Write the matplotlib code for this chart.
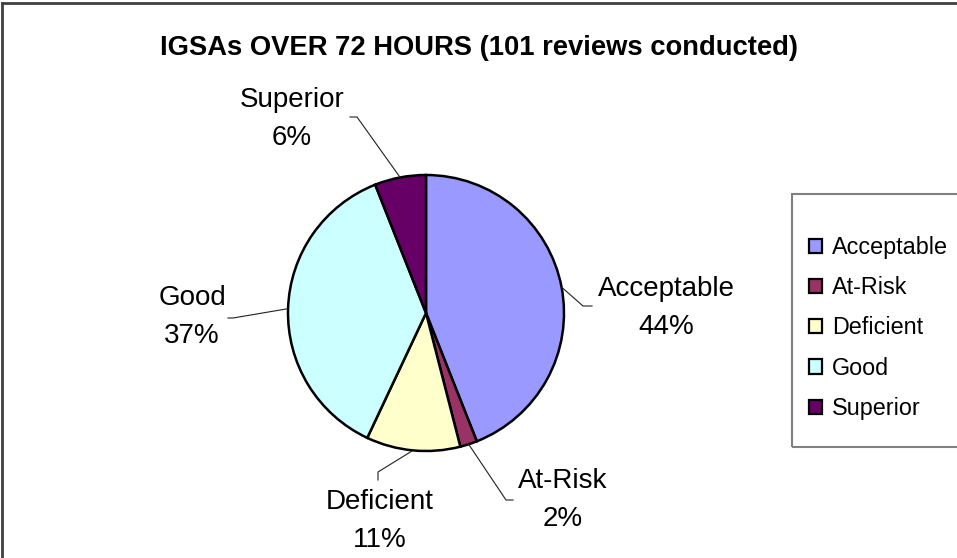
import matplotlib
matplotlib.use('Agg')
from matplotlib import pyplot as plt
from matplotlib.patches import Rectangle
from matplotlib.lines import Line2D
import numpy as np

plt.rcParams['font.family'] = ['Liberation Sans', 'DejaVu Sans']

title = 'IGSAs OVER 72 HOURS (101 reviews conducted)'
categories = ['Acceptable', 'At-Risk', 'Deficient', 'Good', 'Superior']
percents = [44, 2, 11, 37, 6]
colors = ['#9999FF', '#993366', '#FFFFCC', '#CCFFFF', '#660066']

W, H = 957, 558
fig = plt.figure(figsize=(W/100, H/100), dpi=100)

def fx(x):
    return x / W

def fy(y):
    return 1 - y / H

# outer chart frame (right/bottom edges are cropped in the original)
fig.add_artist(Line2D([fx(2), 1], [fy(3), fy(3)], color='#404040', lw=2))
fig.add_artist(Line2D([fx(2), fx(2)], [fy(3), 0], color='#404040', lw=2))

fig.text(fx(479), fy(48), title, ha='center', va='center',
         fontsize=19.7, fontweight='bold')

# pie: centre (426, 313) px, radius 138 px
cx, cy, r = 426, 313, 138
ax = fig.add_axes([fx(cx - r), fy(cy + r), 2*r/W, 2*r/H])
wedges, _ = ax.pie(percents, colors=colors, startangle=90, counterclock=False,
                   wedgeprops=dict(edgecolor='black', linewidth=1.8))
ax.set_xlim(-1, 1)
ax.set_ylim(-1, 1)
ax.axis('off')

def d(x, y):
    return ((x - cx) / r, (cy - y) / r)

# leader elbows and label centres in pixels
elbows = [[(583, 306), (592, 306)],
          [(506, 500), (513, 500)],
          [(378, 472), (378, 480)],
          [(233, 318), (228, 318)],
          [(357, 117), (350, 117)]]
centres = [(666, 308), (563, 500), (380, 521), (192, 317), (292, 119)]

for w, name, p, el, c in zip(wedges, categories, percents, elbows, centres):
    ang = np.deg2rad((w.theta1 + w.theta2) / 2)
    pts = [(np.cos(ang), np.sin(ang))] + [d(*e) for e in el]
    xs, ys = zip(*pts)
    ax.plot(xs, ys, color='#202020', lw=0.8, clip_on=False)
    tx, ty = d(*c)
    ax.text(tx, ty, f'{name}\n{p}%', ha='center', va='center', fontsize=20,
            linespacing=1.58, multialignment='center')

# legend box (extends past the cropped right edge)
fig.add_artist(Rectangle((fx(792), fy(447)), 1, (447 - 194)/H,
                         transform=fig.transFigure, fill=False,
                         edgecolor='#808080', lw=1.5))
leg = fig.legend(wedges, categories, loc='center left',
                 bbox_to_anchor=(fx(809), fy(328)), frameon=False, fontsize=16.8,
                 handlelength=0.55, handleheight=0.55, handletextpad=0.45,
                 labelspacing=0.74, borderpad=0, borderaxespad=0)
for h in leg.legend_handles:
    h.set_linewidth(1.6)

fig.savefig('out.png', dpi=100)
